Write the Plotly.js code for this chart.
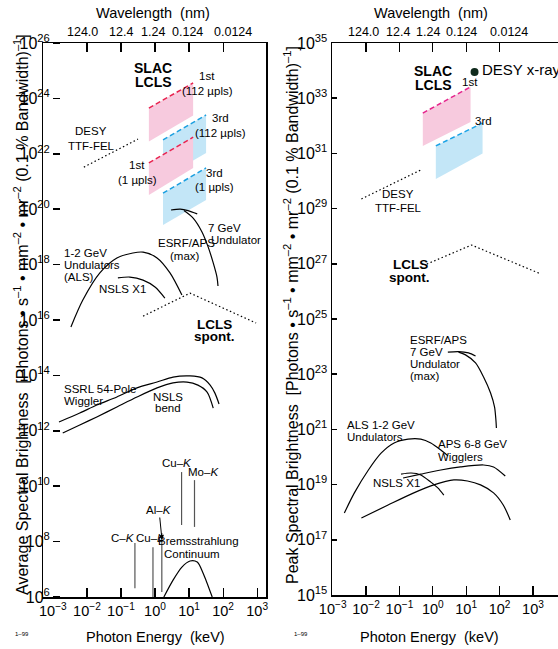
<!DOCTYPE html>
<html><head><meta charset="utf-8">
<script src="https://cdn.plot.ly/plotly-3.0.1.min.js"></script>
<style>html,body{margin:0;padding:0;background:#fff;}#chart{width:558px;height:649px;}</style>
</head><body><div id="chart"></div>
<script>
// ===== DATA (stored as log10 of the value) =====
// axis ticks
const energyTickExp = [-3,-2,-1,0,1,2,3];
const energyTickText = ['10<sup>−3</sup>','10<sup>−2</sup>','10<sup>−1</sup>','10<sup>0</sup>','10<sup>1</sup>','10<sup>2</sup>','10<sup>3</sup>'];
const energyMarkExp = [-2,-1,0,1,2,3];
const wavelengthTickExp = [-2,-1,0,1,2];
const wavelengthTickText = ['124.0','12.4','1.24','0.124','0.0124'];
const avgTickExp = [6,8,10,12,14,16,18,20,22,24,26];
const peakTickExp = [15,17,19,21,23,25,27,29,31,33,35];

// ---- Average brightness panel ----
const avgALS_E = [-2.47,-2.12,-1.62,-1.12,-0.65,-0.35,0.06,0.44,0.79];
const avgALS_B = [15.75,16.72,17.70,18.24,18.42,18.45,18.24,17.70,16.90];
const avgNSLSX1_E = [-1.09,-0.74,-0.35,0.0,0.29];
const avgNSLSX1_B = [17.52,17.55,17.44,17.19,16.79];
const avgESRFtop_E = [0.47,0.74,0.97,1.24];
const avgESRFtop_B = [19.97,20.0,19.95,19.83];
const avgESRF_E = [0.85,1.12,1.38,1.56,1.71,1.82,1.85];
const avgESRF_B = [19.95,19.68,19.18,18.64,18.06,17.55,17.23];
const avgLCLSspont_E = [-0.35,1.03,2.97];
const avgLCLSspont_B = [16.14,16.97,15.89];
const avgSSRL_E = [-2.82,-2.21,-1.71,-1.12,-0.53,0.06,0.53,1.03,1.38,1.62,1.76,1.88];
const avgSSRL_B = [12.32,12.64,12.93,13.22,13.55,13.76,13.94,13.98,13.91,13.65,13.36,12.97];
const avgNSLSbend_E = [-2.71,-2.21,-1.71,-1.12,-0.53,0.06,0.53,0.94,1.26,1.53,1.71];
const avgNSLSbend_B = [11.92,12.21,12.50,12.86,13.22,13.55,13.73,13.76,13.65,13.40,12.82];
const avgDESYTTF_E = [-2.09,-0.5];
const avgDESYTTF_B = [21.52,22.53];
const avgBrems_E = [0.26,0.53,0.79,1.03,1.24,1.41,1.68];
const avgBrems_B = [6.0,6.61,7.08,7.30,7.26,6.87,6.0];
const lineNames = ['C–K','Cu–L','Al–K','Cu–K','Mo–K'];
const lineE = [-0.59,-0.06,0.20,0.78,1.16];
const lineTopB = [7.95,7.80,8.31,10.51,10.22];
const lineBotB = [6.32,6.0,6.18,8.60,8.53];
// LCLS bands: [E left, E right], [B left-top, B right-top, B right-bottom, B left-bottom]
const avgLCLS1st112_E = [-0.18,1.12], avgLCLS1st112_B = [23.65,24.56,23.38,22.44];
const avgLCLS3rd112_E = [0.235,1.50], avgLCLS3rd112_B = [22.50,23.40,22.03,21.13];
const avgLCLS1st1_E = [-0.18,1.12],   avgLCLS1st1_B = [21.67,22.60,21.49,20.51];
const avgLCLS3rd1_E = [0.235,1.50],   avgLCLS3rd1_B = [20.58,21.49,20.33,19.43];

// ---- Peak brightness panel ----
const pkLCLS1st_E = [-0.30,1.13], pkLCLS1st_B = [32.46,33.41,32.14,31.27];
const pkLCLS3rd_E = [0.09,1.49],  pkLCLS3rd_B = [31.27,32.10,31.00,30.07];
const pkDESYTTF_E = [-2.14,-0.36];
const pkDESYTTF_B = [29.35,30.40];
const pkLCLSspont_E = [-0.18,1.16,3.24];
const pkLCLSspont_B = [26.99,27.68,26.63];
const pkESRFtop_E = [0.45,0.77,1.07,1.28];
const pkESRFtop_B = [23.80,23.82,23.77,23.66];
const pkESRF_E = [0.77,0.98,1.28,1.52,1.73,1.85,1.89,1.905];
const pkESRF_B = [23.80,23.70,23.41,22.90,22.32,21.81,21.34,21.05];
const pkALS_E = [-2.65,-2.35,-1.93,-1.55,-1.16,-0.74,-0.36,-0.06,0.24,0.45];
const pkALS_B = [17.97,18.70,19.53,20.14,20.51,20.65,20.65,20.51,20.25,20.04];
const pkNSLSX1_E = [-0.95,-0.65,-0.36,-0.06,0.15,0.33];
const pkNSLSX1_B = [19.38,19.42,19.35,19.09,18.88,18.62];
const pkAPSwig_E = [-0.89,-0.36,0.24,0.83,1.52,1.82,2.17];
const pkAPSwig_B = [19.24,19.38,19.53,19.64,19.71,19.64,19.31];
const pkLower_E = [-2.14,-1.34,-0.57,0.03,0.63,1.04,1.43,1.82,2.11,2.32];
const pkLower_B = [17.79,18.26,18.70,18.99,19.17,19.13,18.99,18.70,18.26,17.72];
const pkDESYxray_E = [1.25];
const pkDESYxray_B = [33.95];

// ===== helpers =====
const W = 558, H = 649;
const P10 = a => a.map(v => Math.pow(10, v));
const NARROW = 'Liberation Sans Narrow, Arial Narrow, Liberation Sans, Arial, sans-serif';
const REG = 'Liberation Sans, Arial, sans-serif';
const px = x => x / W, py = y => 1 - y / H;

const traces = [];
function curve(ax, E, B, opt) {
  opt = opt || {};
  traces.push({type:'scatter', mode:'lines', xaxis:ax[0], yaxis:ax[1],
    x:P10(E), y:P10(B), hoverinfo:'skip',
    line:{color:opt.color||'#000', width:opt.width||1.2, dash:opt.dash||'solid', shape:opt.shape||'spline', smoothing:0.8}});
}
function band(ax, E, B, fill, edge) {
  traces.push({type:'scatter', mode:'lines', xaxis:ax[0], yaxis:ax[1],
    x:P10([E[0],E[1],E[1],E[0],E[0]]), y:P10([B[0],B[1],B[2],B[3],B[0]]),
    fill:'toself', fillcolor:fill, line:{width:0, color:'rgba(0,0,0,0)'}, hoverinfo:'skip'});
  traces.push({type:'scatter', mode:'lines', xaxis:ax[0], yaxis:ax[1],
    x:P10([E[0],E[1]]), y:P10([B[0],B[1]]), line:{color:edge, width:1.5, dash:'5px,3px'}, hoverinfo:'skip'});
}
const L = ['x','y'], R = ['x2','y2'];
const DOT = '1.5px,2.5px';
const PINK = '#f7cade', BLUE = '#c3e6f7';

// left panel
band(L, avgLCLS1st112_E, avgLCLS1st112_B, PINK, '#e8234f');
band(L, avgLCLS3rd112_E, avgLCLS3rd112_B, BLUE, '#1a9fe0');
band(L, avgLCLS1st1_E, avgLCLS1st1_B, PINK, '#e8234f');
band(L, avgLCLS3rd1_E, avgLCLS3rd1_B, BLUE, '#1a9fe0');
curve(L, avgDESYTTF_E, avgDESYTTF_B, {dash:DOT, shape:'linear'});
curve(L, avgESRFtop_E, avgESRFtop_B);
curve(L, avgESRF_E, avgESRF_B);
curve(L, avgALS_E, avgALS_B);
curve(L, avgNSLSX1_E, avgNSLSX1_B);
curve(L, avgLCLSspont_E, avgLCLSspont_B, {dash:DOT, shape:'linear'});
curve(L, avgSSRL_E, avgSSRL_B);
curve(L, avgNSLSbend_E, avgNSLSbend_B);
curve(L, avgBrems_E, avgBrems_B);
for (let i = 0; i < lineNames.length; i++) {
  curve(L, [lineE[i], lineE[i]], [lineBotB[i], lineTopB[i]], {color:'#555', width:1.2, shape:'linear'});
}
// right panel
band(R, pkLCLS1st_E, pkLCLS1st_B, PINK, '#e5248c');
band(R, pkLCLS3rd_E, pkLCLS3rd_B, BLUE, '#1aa3e6');
curve(R, pkDESYTTF_E, pkDESYTTF_B, {dash:DOT, shape:'linear'});
curve(R, pkLCLSspont_E, pkLCLSspont_B, {dash:DOT, shape:'linear'});
curve(R, pkESRFtop_E, pkESRFtop_B);
curve(R, pkESRF_E, pkESRF_B);
curve(R, pkALS_E, pkALS_B);
curve(R, pkNSLSX1_E, pkNSLSX1_B);
curve(R, pkAPSwig_E, pkAPSwig_B);
curve(R, pkLower_E, pkLower_B);
traces.push({type:'scatter', mode:'markers', xaxis:'x2', yaxis:'y2', x:P10(pkDESYxray_E), y:P10(pkDESYxray_B),
  marker:{size:8, color:'#0f2a1c'}, hoverinfo:'skip'});
// invisible anchors so the overlay axes are drawn
[['x3','y'],['x5','y'],['x','y3'],['x4','y2'],['x6','y2']].forEach(a => {
  traces.push({type:'scatter', mode:'markers', xaxis:a[0], yaxis:a[1], x:[1], y:[a[1]==='y2'?1e20:1e10],
    marker:{opacity:0}, hoverinfo:'skip', showlegend:false});
});

// ===== axes =====
const xDomL = [px(43), px(266)], xDomR = [px(332), 1];
const yDomL = [py(597), py(43)], yDomR = [py(595), py(43)];
const xRangeL = [-3.29, 3.26], xRangeR = [-3.02, 3.75];
const base = {type:'log', showgrid:false, zeroline:false, fixedrange:true, tickangle:0};
const tickFontX = {family:NARROW, size:14.5, color:'#000'};
const tickFontY = {family:NARROW, size:16, color:'#000'};

const layout = {
  width:W, height:H, autosize:false, showlegend:false,
  margin:{l:0,r:0,t:0,b:0}, paper_bgcolor:'#fff', plot_bgcolor:'rgba(0,0,0,0)',
  xaxis: Object.assign({}, base, {domain:xDomL, range:xRangeL, anchor:'y', side:'bottom',
    tickmode:'array', tickvals:P10(energyTickExp), ticktext:energyTickText, ticks:'', tickfont:tickFontX,
    showline:true, linecolor:'#000', linewidth:1.5, mirror:true}),
  xaxis3: Object.assign({}, base, {domain:xDomL, range:xRangeL, overlaying:'x', anchor:'y', side:'bottom',
    tickmode:'array', tickvals:P10(energyMarkExp), ticks:'inside', ticklen:9, tickwidth:1.2, tickcolor:'#000',
    showticklabels:false, showline:false}),
  xaxis5: Object.assign({}, base, {domain:xDomL, range:xRangeL, overlaying:'x', anchor:'y', side:'top',
    tickmode:'array', tickvals:P10(wavelengthTickExp), ticks:'inside', ticklen:9,
    tickwidth:1.2, tickcolor:'#000', showticklabels:false, showline:false}),
  yaxis: Object.assign({}, base, {domain:yDomL, range:[6,26], anchor:'x', showticklabels:false, ticks:'',
    showline:true, linecolor:'#000', linewidth:1.5, mirror:true}),
  yaxis3: Object.assign({}, base, {domain:yDomL, range:[6,26], overlaying:'y', anchor:'free', position:px(60), side:'left',
    tickmode:'array', tickvals:P10(avgTickExp), ticktext:avgTickExp.map(e => '10<sup>' + e + '</sup>'),
    ticks:'outside', ticklen:7, tickwidth:1.5, tickcolor:'#000', tickfont:tickFontY, showline:false}),

  xaxis2: Object.assign({}, base, {domain:xDomR, range:xRangeR, anchor:'y2', side:'bottom',
    tickmode:'array', tickvals:P10(energyTickExp), ticktext:energyTickText, ticks:'', tickfont:tickFontX,
    showline:true, linecolor:'#000', linewidth:1.5, mirror:true}),
  xaxis4: Object.assign({}, base, {domain:xDomR, range:xRangeR, overlaying:'x2', anchor:'y2', side:'bottom',
    tickmode:'array', tickvals:P10(energyMarkExp), ticks:'inside', ticklen:9, tickwidth:1.2, tickcolor:'#000',
    showticklabels:false, showline:false}),
  xaxis6: Object.assign({}, base, {domain:xDomR, range:xRangeR, overlaying:'x2', anchor:'y2', side:'top',
    tickmode:'array', tickvals:P10(wavelengthTickExp), ticks:'inside', ticklen:9,
    tickwidth:1.2, tickcolor:'#000', showticklabels:false, showline:false}),
  yaxis2: Object.assign({}, base, {domain:yDomR, range:[15,35], anchor:'x2',
    tickmode:'array', tickvals:P10(peakTickExp), ticktext:peakTickExp.map(e => '10<sup>' + e + '</sup>'),
    ticks:'inside', ticklen:5, tickwidth:1.5, tickcolor:'#000', tickfont:tickFontY,
    showline:true, linecolor:'#000', linewidth:1.5, mirror:false}),
  annotations: []
};

function label(text, x, y, o) {
  o = o || {};
  layout.annotations.push({text:text, xref:'paper', yref:'paper', x:px(x), y:py(y), showarrow:false,
    xanchor:o.xanchor||'center', yanchor:'middle', textangle:o.angle||0,
    font:{family:o.family||NARROW, size:o.size||11.5, color:'#000'}});
}
const B = s => '<b>' + s + '</b>';
const yTitleTail = '  [Photons • s<sup>–1</sup> • mm<sup>–2</sup> • mr<sup>–2</sup> (0.1 % Bandwidth)<sup>–1</sup>]';
// wavelength tick labels (placed as in the original figure, slightly offset from their ticks)
const wlLabelXLeft = [82, 121, 153, 187, 233];
const wlLabelXRight = [363, 398, 428, 461, 509];
wavelengthTickText.forEach((t, i) => {
  label(t, wlLabelXLeft[i], 32, {size:12.5});
  label(t, wlLabelXRight[i], 32, {size:12.5});
});
// titles
label('Wavelength  (nm)', 153, 13, {size:14.5});
label('Wavelength  (nm)', 431, 13, {size:14.5});
label('Photon Energy  (keV)', 155, 637, {size:14.5});
label('Photon Energy  (keV)', 430, 637, {size:14.5});
label('1–99', 22, 634, {size:6});
label('1–99', 301, 634, {size:6});
label('Average Spectral Brightness' + yTitleTail, 21, 315, {size:16, angle:-90});
label('Peak Spectral Brightness' + yTitleTail, 291, 315, {size:16, angle:-90});
// left panel labels
label(B('SLAC'), 153, 68, {size:14}); label(B('LCLS'), 153, 82, {size:14});
label('1st', 207, 76); label('(112 µpls)', 207, 91);
label('3rd', 220, 118); label('(112 µpls)', 220, 133);
label('DESY', 91, 131); label('TTF-FEL', 91, 146);
label('1st', 137, 165); label('(1 µpls)', 137, 180);
label('3rd', 215, 173); label('(1 µpls)', 215, 187);
label('7 GeV', 206, 228, {xanchor:'left'}); label('Undulator', 209, 240, {xanchor:'left'});
label('ESRF/APS', 186, 243); label('(max)', 185, 256);
label('1-2 GeV', 62, 253, {xanchor:'left'}); label('Undulators', 62, 265, {xanchor:'left'}); label('(ALS)', 62, 277, {xanchor:'left'});
label('NSLS X1', 122, 289);
label(B('LCLS'), 215, 324, {size:13.5}); label(B('spont.'), 215, 336, {size:13.5});
label('SSRL 54-Pole', 62, 389, {xanchor:'left'}); label('Wiggler', 62, 401, {xanchor:'left'});
label('NSLS', 168, 397); label('bend', 168, 408);
label('Cu–<i>K</i>', 177, 463); label('Mo–<i>K</i>', 203, 472);
label('C–<i>K</i>', 123, 538); label('Cu–<i>L</i>', 150, 538);
label('Bremsstrahlung', 198, 541); label('Continuum', 192, 554);
layout.annotations.push({text:'Al–<i>K</i>', xref:'paper', yref:'paper', x:px(162), y:py(540),
  showarrow:true, ax:-3, ay:-30, arrowhead:2, arrowsize:1, arrowwidth:1, arrowcolor:'#000',
  font:{family:NARROW, size:11.5, color:'#000'}});
// right panel labels
label(B('SLAC'), 433, 71, {size:14}); label(B('LCLS'), 433, 85, {size:14});
label('1st', 470, 82);
label('DESY x-ray', 480, 70, {xanchor:'left', size:15, family:REG});
label('3rd', 483, 121);
label('DESY', 398, 194); label('TTF-FEL', 398, 208);
label(B('LCLS'), 410, 264, {size:13.5}); label(B('spont.'), 409, 277, {size:13.5});
label('ESRF/APS', 408, 340, {xanchor:'left'}); label('7 GeV', 408, 352, {xanchor:'left'});
label('Undulator', 408, 364, {xanchor:'left'}); label('(max)', 408, 376, {xanchor:'left'});
label('ALS 1-2 GeV', 345, 425, {xanchor:'left'}); label('Undulators', 345, 437, {xanchor:'left'});
label('APS 6-8 GeV', 436, 444, {xanchor:'left'}); label('Wigglers', 436, 457, {xanchor:'left'});
label('NSLS X1', 371, 483, {xanchor:'left'});

Plotly.newPlot('chart', traces, layout, {staticPlot:true, displayModeBar:false});
</script></body></html>
